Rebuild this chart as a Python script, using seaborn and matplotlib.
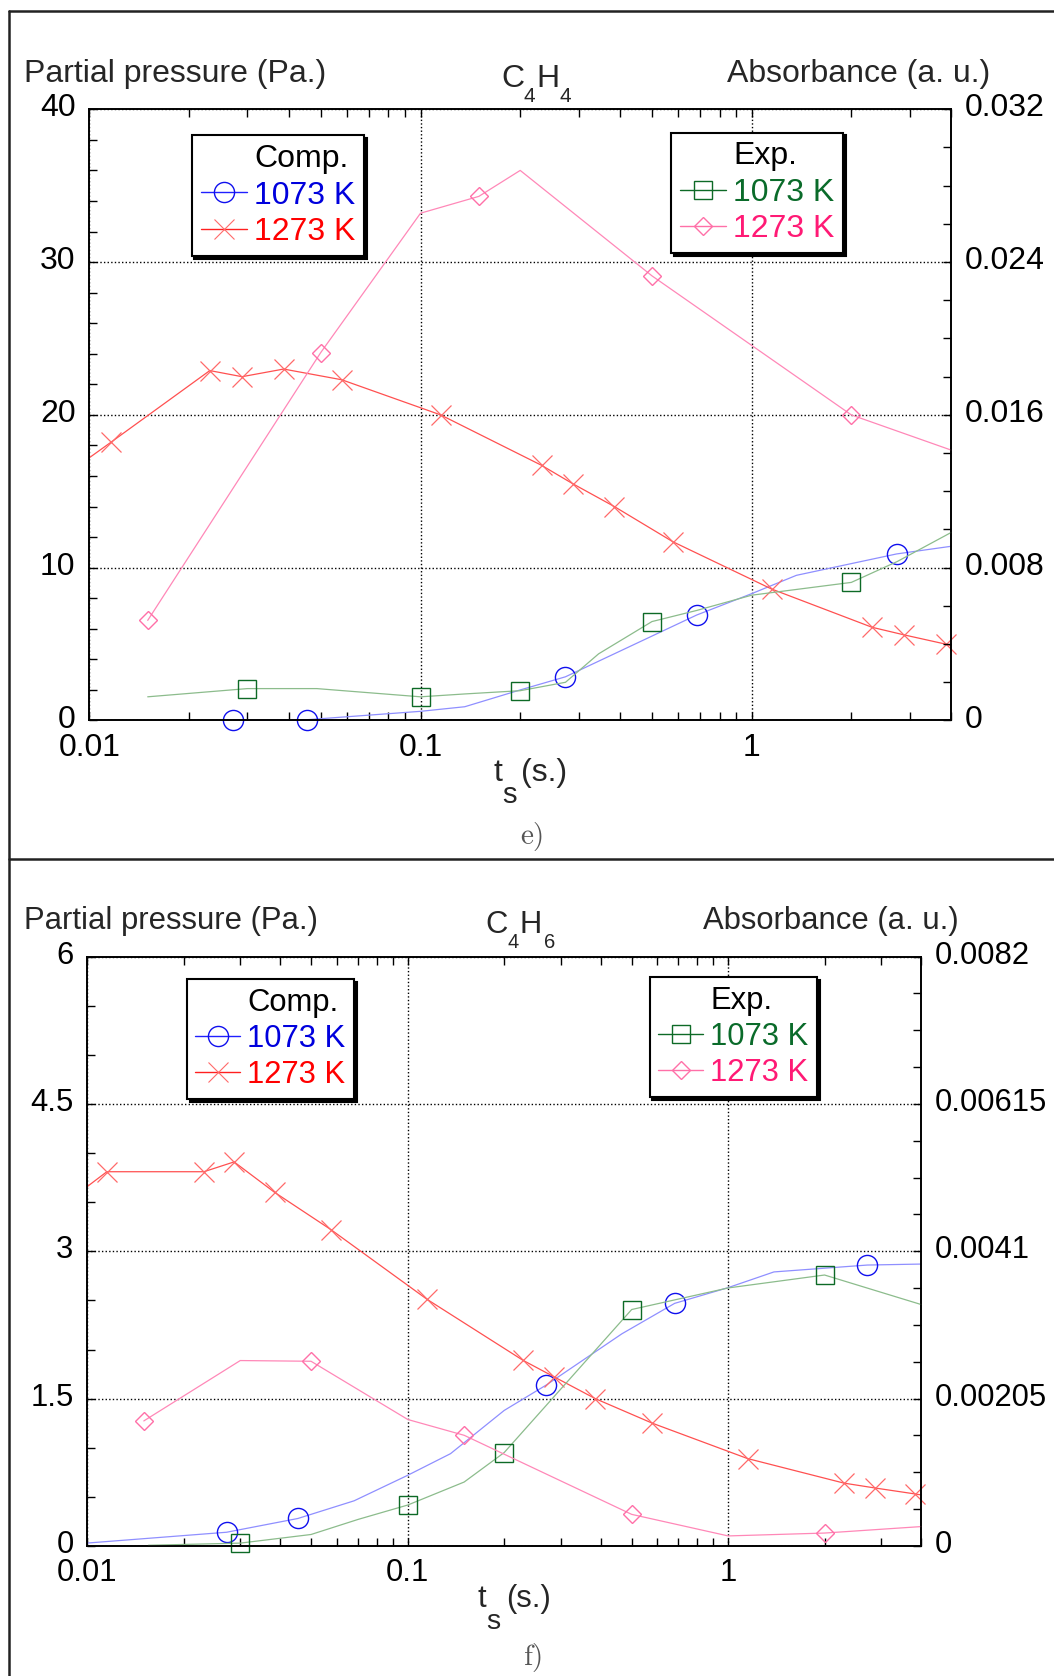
import matplotlib
matplotlib.use("Agg")
import matplotlib.pyplot as plt
import seaborn as sns
from matplotlib.lines import Line2D
from matplotlib.ticker import LogLocator, MultipleLocator, NullFormatter
from matplotlib.transforms import ScaledTranslation

# ---- panel e) C4H4 ----
# computed partial pressure (Pa), left axis
e_comp1073_t = [0.0272, 0.0453, 0.1, 0.136, 0.2, 0.274, 0.682, 1.0, 1.365, 2.74, 4.0]
e_comp1073_p = [0.05, 0.05, 0.6, 0.9, 2.0, 2.86, 6.9, 8.3, 9.5, 10.9, 11.4]
e_comp1073_marks = [0, 1, 5, 6, 9]

e_comp1273_t = [0.01, 0.0116, 0.0231, 0.0289, 0.0386, 0.0578, 0.115, 0.232, 0.288,
                0.385, 0.578, 1.15, 2.31, 2.89, 3.85, 4.0]
e_comp1273_p = [17.2, 18.2, 22.9, 22.5, 23.0, 22.3, 20.0, 16.7, 15.5,
                14.0, 11.7, 8.6, 6.1, 5.6, 5.0, 4.9]
e_comp1273_marks = list(range(1, 15))

# measured absorbance (a. u.), right axis
e_exp1073_t = [0.015, 0.030, 0.0486, 0.1, 0.136, 0.2, 0.274, 0.345, 0.5, 0.682, 1.0, 2.0, 2.75, 4.0]
e_exp1073_a = [0.00124, 0.00167, 0.00167, 0.00124, 0.00139, 0.00156, 0.0020, 0.00349,
               0.00518, 0.00576, 0.00656, 0.00723, 0.00832, 0.00984]
e_exp1073_marks = [1, 3, 5, 8, 11]

e_exp1273_t = [0.015, 0.0499, 0.1, 0.15, 0.2, 0.5, 2.0, 4.0]
e_exp1273_a = [0.00524, 0.01925, 0.02656, 0.02744, 0.0288, 0.02328, 0.016, 0.01416]
e_exp1273_marks = [0, 1, 3, 5, 6]

e_left_ticks = [0, 10, 20, 30, 40]
e_left_labels = ["0", "10", "20", "30", "40"]
e_right_ticks = [0, 0.008, 0.016, 0.024, 0.032]
e_right_labels = ["0", "0.008", "0.016", "0.024", "0.032"]

# ---- panel f) C4H6 ----
f_comp1073_t = [0.01, 0.0272, 0.0454, 0.068, 0.1, 0.136, 0.2, 0.271, 0.466, 0.681, 1.0, 1.39, 2.72, 4.0]
f_comp1073_p = [0.03, 0.14, 0.28, 0.46, 0.72, 0.94, 1.38, 1.64, 2.16, 2.47, 2.63, 2.79, 2.86, 2.87]
f_comp1073_marks = [1, 2, 7, 9, 12]

f_comp1273_t = [0.01, 0.0115, 0.0231, 0.0287, 0.0384, 0.0576, 0.115, 0.229, 0.287,
                0.385, 0.58, 1.15, 2.30, 2.88, 3.83, 4.0]
f_comp1273_p = [3.66, 3.81, 3.81, 3.91, 3.60, 3.22, 2.51, 1.89, 1.72,
                1.50, 1.25, 0.89, 0.64, 0.59, 0.53, 0.52]
f_comp1273_marks = list(range(1, 15))

f_exp1073_t = [0.0155, 0.030, 0.0499, 0.07, 0.1, 0.15, 0.2, 0.5, 1.0, 2.0, 4.0]
f_exp1073_a = [0.00001, 0.00004, 0.00016, 0.00037, 0.00057, 0.00089, 0.0013,
               0.00329, 0.00359, 0.00377, 0.00336]
f_exp1073_marks = [1, 4, 6, 7, 9]

f_exp1273_t = [0.015, 0.030, 0.0499, 0.1, 0.15, 0.5, 1.0, 2.0, 4.0]
f_exp1273_a = [0.00174, 0.00258, 0.00257, 0.00176, 0.00154, 0.00044, 0.00014, 0.00018, 0.00027]
f_exp1273_marks = [0, 2, 4, 5, 7]

f_left_ticks = [0, 1.5, 3, 4.5, 6]
f_left_labels = ["0", "1.5", "3", "4.5", "6"]
f_right_ticks = [0, 0.00205, 0.0041, 0.00615, 0.0082]
f_right_labels = ["0", "0.00205", "0.0041", "0.00615", "0.0082"]

x_ticks = [0.01, 0.1, 1]
x_labels = ["0.01", "0.1", "1"]

# colours: (line, marker, legend text)
BLUE = ("#8f8fff", "#1010ee", "#0000dd")
RED = ("#ff5050", "#ff6a6a", "#ff0000")
GREEN = ("#8cbc8c", "#0d6a26", "#0a6b2a")
PINK = ("#ff88b8", "#ff70a8", "#ff1a75")

sns.set_theme(style="white")
plt.rcParams["font.family"] = ["Liberation Sans", "DejaVu Sans"]
plt.rcParams["axes.edgecolor"] = "black"
plt.rcParams["axes.linewidth"] = 1.2

W, H = 1054, 1676
fig = plt.figure(figsize=(W / 100, H / 100), dpi=100)


def fx(px):
    return px / W


def fy(py):
    return 1 - py / H


def series(ax, t, v, marks, marker, ms, cols, mew=1.0):
    sns.lineplot(x=t, y=v, ax=ax, estimator=None, sort=False, color=cols[0], lw=0.9,
                 marker=marker, markevery=marks, ms=ms, mfc="none",
                 markeredgecolor=cols[1], markeredgewidth=mew, clip_on=False)


def handle(marker, ms, cols, line_col, mew=1.0):
    return Line2D([], [], color=line_col, lw=1.0, marker=marker, ms=ms, mfc="none",
                  mec=cols[1], mew=mew)


def raise_labels(labels, dy_px):
    off = ScaledTranslation(0, dy_px / 100, fig.dpi_scale_trans)
    for lbl in labels:
        lbl.set_transform(lbl.get_transform() + off)


def panel(rect, fs, comp1073, comp1273, exp1073, exp1273, lticks, llabels, lminor,
          rticks, rlabels, rminor, comp_anchor, exp_anchor):
    ax = fig.add_axes(rect)
    ax.set_xscale("log")
    ax2 = ax.twinx()

    series(ax, *comp1073, "o", 14.5, BLUE)
    series(ax, *comp1273, "x", 14, RED, mew=0.9)
    series(ax2, *exp1073, "s", 13, GREEN)
    series(ax2, *exp1273, "D", 9.3, PINK)

    ax.set_xlim(0.01, 4)
    ax.set_ylim(lticks[0], lticks[-1])
    ax2.set_ylim(rticks[0], rticks[-1])
    ax.set_xticks(x_ticks, x_labels)
    ax.xaxis.set_minor_locator(LogLocator(base=10, subs=range(2, 10)))
    ax.xaxis.set_minor_formatter(NullFormatter())
    ax.set_yticks(lticks, llabels)
    ax.yaxis.set_minor_locator(MultipleLocator(lminor))
    ax2.set_yticks(rticks, rlabels)
    ax2.yaxis.set_minor_locator(MultipleLocator(rminor))

    ax.tick_params(which="both", direction="in", top=True, bottom=True, left=True,
                   right=False, length=6, width=1, color="black", labelsize=fs,
                   labelcolor="black")
    ax.tick_params(axis="y", pad=10)
    ax.tick_params(axis="x", pad=9)
    ax2.tick_params(which="both", direction="in", right=True, left=False, length=6,
                    width=1, color="black", labelsize=fs, labelcolor="black", pad=10)
    ax.grid(True, which="major", color="black", ls=(0, (1, 1.6)), lw=1.0)
    ax.set_xlabel("")
    ax.set_ylabel("")
    ax2.set_ylabel("")
    raise_labels(ax.get_yticklabels(), 4.3)
    raise_labels(ax2.get_yticklabels(), 4.3)

    blank = Line2D([], [], alpha=0)
    leg_kw = dict(fontsize=fs, frameon=True, fancybox=False, edgecolor="black",
                  shadow={"color": "black", "alpha": 1.0}, loc="upper left",
                  borderaxespad=0, handlelength=1.45, handletextpad=0.22,
                  borderpad=0.28, labelspacing=0.2, numpoints=1)
    leg1 = ax2.legend([blank, handle("o", 14.5, BLUE, "#2020ff"),
                       handle("x", 14, RED, "#ff2020", mew=0.8)],
                      ["Comp.", "1073 K", "1273 K"],
                      labelcolor=["black", BLUE[2], RED[2]],
                      bbox_to_anchor=comp_anchor, **leg_kw)
    leg1.get_frame().set_linewidth(1.5)
    ax2.add_artist(leg1)
    leg2 = ax2.legend([blank, handle("s", 13, GREEN, GREEN[1]),
                       handle("D", 9.3, PINK, PINK[1])],
                      ["Exp.", "1073 K", "1273 K"],
                      labelcolor=["black", GREEN[2], PINK[2]],
                      bbox_to_anchor=exp_anchor, **leg_kw)
    leg2.get_frame().set_linewidth(1.5)
    return ax


panel([0.08482, 0.57011, 0.81746, 0.36468], 23,
      (e_comp1073_t, e_comp1073_p, e_comp1073_marks),
      (e_comp1273_t, e_comp1273_p, e_comp1273_marks),
      (e_exp1073_t, e_exp1073_a, e_exp1073_marks),
      (e_exp1273_t, e_exp1273_a, e_exp1273_marks),
      e_left_ticks, e_left_labels, 2, e_right_ticks, e_right_labels, 0.002,
      (0.1187, 0.9575), (0.6747, 0.9620))

panel([0.08292, 0.07757, 0.79089, 0.35167], 22.3,
      (f_comp1073_t, f_comp1073_p, f_comp1073_marks),
      (f_comp1273_t, f_comp1273_p, f_comp1273_marks),
      (f_exp1073_t, f_exp1073_a, f_exp1073_marks),
      (f_exp1273_t, f_exp1273_a, f_exp1273_marks),
      f_left_ticks, f_left_labels, 0.5, f_right_ticks, f_right_labels, 0.0005125,
      (0.1192, 0.9618), (0.6745, 0.9650))


def put(x, base, s, fs, **kw):
    fig.text(fx(x), fy(base), s, fontsize=fs, ha="left", va="baseline", **kw)


# header row of panel e)
put(23.5, 82, "Partial pressure (Pa.)", 23)
put(727, 82, "Absorbance (a. u.)", 23)
put(501, 87, "C", 23)
put(524, 102, "4", 15)
put(536, 87, "H", 23)
put(560, 102, "4", 15)

# header row of panel f)
put(23.5, 929, "Partial pressure (Pa.)", 22.3)
put(703, 929, "Absorbance (a. u.)", 22.3)
put(485, 933, "C", 22.3)
put(508, 948, "4", 14.5)
put(520, 933, "H", 22.3)
put(544, 948, "6", 14.5)

# x labels  t_s (s.)
put(493, 781, "t", 23)
put(502, 803, "s", 21)
put(521, 781, "(s.)", 23)
put(477, 1607, "t", 22.3)
put(486, 1629, "s", 20.5)
put(506, 1607, "(s.)", 22.3)

# panel letters
fig.text(fx(532), fy(836), r"$\mathrm{e)}$", fontsize=21, ha="center", va="center",
         color="#555555", math_fontfamily="cm")
fig.text(fx(533), fy(1657), r"$\mathrm{f)}$", fontsize=21, ha="center", va="center",
         color="#555555", math_fontfamily="cm")

# outer frame lines
frame_kw = dict(transform=fig.transFigure, color="#222222", lw=1.8)
fig.add_artist(Line2D([fx(8.5), 1], [fy(10.7), fy(10.7)], **frame_kw))
fig.add_artist(Line2D([fx(8.5), fx(8.5)], [fy(10.7), 0], **frame_kw))
fig.add_artist(Line2D([fx(8.5), 1], [fy(859), fy(859)], **frame_kw))

fig.savefig("out.png", dpi=100)
